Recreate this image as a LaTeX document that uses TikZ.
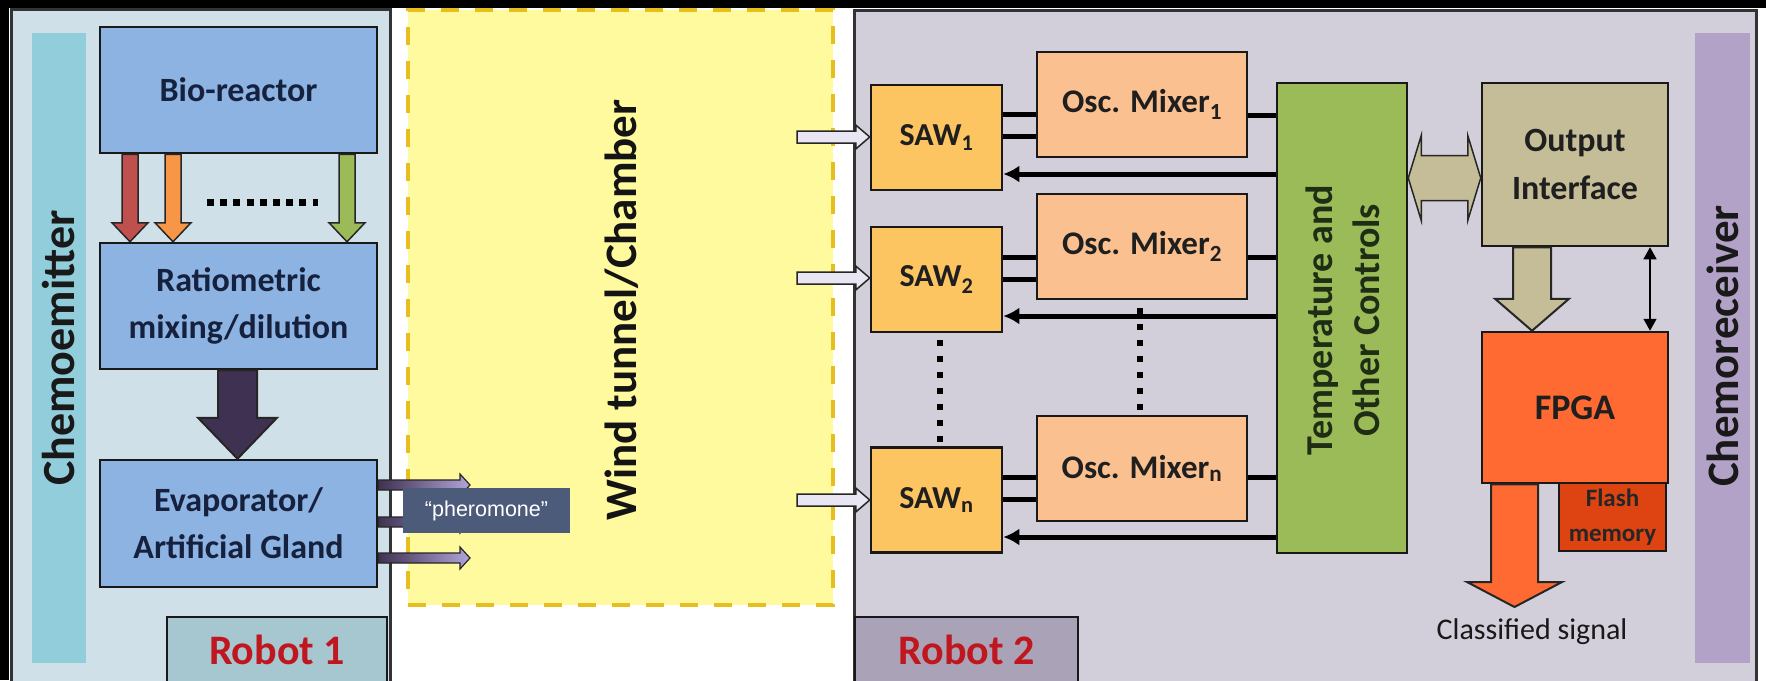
\documentclass[tikz,border=0pt]{standalone}
\usepackage{fontspec}
\setmainfont{Carlito}
\newfontfamily\labelfont{Liberation Sans}
\usetikzlibrary{calc,arrows.meta}

\definecolor{emitpanel}{HTML}{CFE0E8}
\definecolor{emitstrip}{HTML}{92CDDC}
\definecolor{emitbox}{HTML}{8DB3E2}
\definecolor{robotone}{HTML}{A6C7D0}
\definecolor{recvpanel}{HTML}{D2CFDA}
\definecolor{recvstrip}{HTML}{B3A2C7}
\definecolor{robottwo}{HTML}{AAA3B7}
\definecolor{sawfill}{HTML}{FCC562}
\definecolor{mixfill}{HTML}{FAC090}
\definecolor{tempfill}{HTML}{9BBB59}
\definecolor{outfill}{HTML}{C4BD97}
\definecolor{fpgafill}{HTML}{FF6A33}
\definecolor{flashfill}{HTML}{DD4411}
\definecolor{tunnel}{HTML}{FFFA9E}
\definecolor{tunnelline}{HTML}{E6BE1E}
\definecolor{pherofill}{HTML}{4D5B7B}
\definecolor{arrowred}{HTML}{C0504D}
\definecolor{arroworange}{HTML}{F79646}
\definecolor{arrowgreen}{HTML}{9BBB59}
\definecolor{arrowdark}{HTML}{3F3151}
\definecolor{plume}{HTML}{B1A5D8}
\definecolor{inletfill}{HTML}{E8E6F2}
\definecolor{labelred}{HTML}{C0161E}
\definecolor{boxtext}{HTML}{16213E}
\definecolor{temptext}{HTML}{1E2D14}

\newcommand\fsz[2]{\fontsize{#1}{#2}\selectfont}

% block arrow pointing down: start, tip, half shaft, half head, head length, options
\newcommand\blockdown[6]{%
  \path[#6] let \p1=(#1), \p2=(#2) in
    (\x1-#3,\y1) -- (\x1-#3,\y2+#5) -- (\x1-#4,\y2+#5) -- (\x1,\y2)
    -- (\x1+#4,\y2+#5) -- (\x1+#3,\y2+#5) -- (\x1+#3,\y1) -- cycle;}
% block arrow pointing right
\newcommand\blockright[6]{%
  \path[#6] let \p1=(#1), \p2=(#2) in
    (\x1,\y1+#3) -- (\x2-#5,\y1+#3) -- (\x2-#5,\y1+#4) -- (\x2,\y1)
    -- (\x2-#5,\y1-#4) -- (\x2-#5,\y1-#3) -- (\x1,\y1-#3) -- cycle;}
% block arrow with heads at both ends
\newcommand\blockboth[6]{%
  \path[#6] let \p1=(#1), \p2=(#2) in
    (\x1,\y1) -- (\x1+#5,\y1+#4) -- (\x1+#5,\y1+#3) -- (\x2-#5,\y1+#3)
    -- (\x2-#5,\y1+#4) -- (\x2,\y1) -- (\x2-#5,\y1-#4) -- (\x2-#5,\y1-#3)
    -- (\x1+#5,\y1-#3) -- (\x1+#5,\y1-#4) -- cycle;}

\tikzset{
  panel/.style={draw=black!80, line width=2.5pt, anchor=north west, inner sep=0pt},
  strip/.style={inner sep=0pt, minimum width=54pt, minimum height=630pt},
  blk/.style={draw=black!90, line width=2.5pt, inner sep=0pt, align=center},
  wire/.style={draw=black, line width=5pt},
  ctrl/.style={wire, -{Latex[length=16pt,width=17pt]}},
  dotline/.style={line width=6pt, dash pattern=on 6pt off 10pt},
  blockline/.style={draw=black!85, line width=2pt, line join=miter},
  plumearrow/.style={blockline, line width=1.2pt, left color=arrowdark, right color=plume},
}

\begin{document}
\begin{tikzpicture}[x=1pt,y=-1pt]
\useasboundingbox (0,0) rectangle (1766,680);
\clip (0,0) rectangle (1766,680);
\fill[black] (0,0) rectangle (1766,680);
\fill[white] (9,8) rectangle (1766,680);

% ---------- Robot 1: chemo-emitter ----------
\node[panel, fill=emitpanel, minimum width=379pt, minimum height=700pt] (emitter) at (10,8) {};
\node[strip, fill=emitstrip] (emitstrip) at (58.5,348) {};
\node[rotate=90, font=\fsz{46}{46}\bfseries, text=black!90] (emitname) at (59,348) {Chemoemitter};

\begin{scope}[every node/.style={blk, fill=emitbox, text=boxtext, minimum width=277pt, font=\fsz{34}{47}\bfseries}]
  \node[minimum height=126pt] (bio)   at (238.5,90)    {Bio-reactor};
  \node[minimum height=126pt] (ratio) at (238.5,306)   {Ratiometric\\mixing/dilution};
  \node[minimum height=127pt] (evap)  at (238.5,523.5) {Evaporator/\\Artificial Gland};
\end{scope}
\node[blk, fill=robotone, text=labelred, minimum width=220pt, minimum height=66pt,
      font=\fsz{42}{42}\bfseries] (robot1) at (277,650) {Robot 1};

% compound streams from the bio-reactor
\blockdown{bio.south -| 130,0}{ratio.north -| 130,0}{8pt}{18pt}{19pt}{blockline, line width=1.5pt, fill=arrowred}
\blockdown{bio.south -| 173,0}{ratio.north -| 173,0}{8pt}{18pt}{19pt}{blockline, line width=1.5pt, fill=arroworange}
\blockdown{bio.south -| 347,0}{ratio.north -| 347,0}{8pt}{18pt}{19pt}{blockline, line width=1.5pt, fill=arrowgreen}
\draw[line width=7pt, dash pattern=on 7pt off 6.2pt] (207,202) -- (318,202);
\blockdown{ratio.south -| 237.5,0}{evap.north -| 237.5,0}{19.5pt}{39.5pt}{41pt}{blockline, fill=arrowdark}

% ---------- wind tunnel ----------
\node[draw=tunnelline, line width=4pt, dash pattern=on 18pt off 16pt, fill=tunnel,
      minimum width=425pt, minimum height=595pt, inner sep=0pt] (tunnel) at (620.5,307.5) {};
\node[rotate=90, font=\fsz{45}{45}\bfseries, text=black!92] (tunnelname) at (622,310) {Wind tunnel/Chamber};

% ---------- Robot 2: chemo-receiver ----------
\node[panel, fill=recvpanel, minimum width=902pt, minimum height=700pt] (receiver) at (853,9) {};
\node[strip, fill=recvstrip, minimum width=55pt] (recvstrip) at (1722.5,348) {};
\node[rotate=90, font=\fsz{45}{45}\bfseries, text=black!90] (recvname) at (1723,346) {Chemoreceiver};
\node[blk, fill=robottwo, text=labelred, minimum width=223pt, minimum height=66pt,
      font=\fsz{42}{42}\bfseries] (robot2) at (966.5,650) {Robot 2};

\begin{scope}[every node/.style={blk, fill=sawfill, text=black!88, minimum width=131pt, minimum height=105pt, font=\fsz{32}{32}\bfseries}]
  \node (saw1) at (936.5,137.5) {SAW\textsubscript{1}};
  \node (saw2) at (936.5,279.5) {SAW\textsubscript{2}};
  \node (sawn) at (936.5,500)   {SAW\textsubscript{n}};
\end{scope}
\begin{scope}[every node/.style={blk, fill=mixfill, text=black!88, minimum width=210pt, minimum height=105pt, font=\fsz{33}{33}\bfseries}]
  \node (mix1) at (1142,104.5) {Osc. Mixer\textsubscript{1}};
  \node (mix2) at (1142,246.5) {Osc. Mixer\textsubscript{2}};
  \node (mixn) at (1142,468.5) {Osc. Mixer\textsubscript{n}};
\end{scope}

\node[blk, fill=tempfill, minimum width=130pt, minimum height=470pt] (temp) at (1342,318) {};
\node[rotate=90, align=center, font=\fsz{38}{47}\bfseries, text=temptext] (templabel) at (1343,320)
  {Temperature and\\Other Controls};

\node[blk, fill=outfill, text=black!88, minimum width=186pt, minimum height=163pt,
      font=\fsz{34}{48}\bfseries] (out) at (1575,164.5) {Output\\Interface};
\node[blk, fill=fpgafill, text=black!88, minimum width=186pt, minimum height=151pt,
      font=\fsz{36}{36}\bfseries] (fpga) at (1575,407.5) {FPGA};
\node[blk, fill=flashfill, text=black!85, minimum width=107pt, minimum height=68pt,
      font=\fsz{25}{35}\bfseries] (flash) at (1612.5,517) {Flash\\memory};
\node[font=\fsz{30}{30}, text=black!90] (signal) at (1532,632) {Classified signal};

% sensor / mixer wiring
\foreach \s/\m/\ya/\yb/\yc/\yd in {saw1/mix1/114/136/115/174, saw2/mix2/257/279/257/316, sawn/mixn/477/499/477/537} {
  \draw[wire] (\s.east |- 0,\ya) -- (\m.west |- 0,\ya);
  \draw[wire] (\s.east |- 0,\yb) -- (\m.west |- 0,\yb);
  \draw[wire] (\m.east |- 0,\yc) -- (temp.west |- 0,\yc);
  \draw[ctrl] (temp.west |- 0,\yd) -- (\s.east |- 0,\yd);
}
\draw[dotline, shorten <=7pt, shorten >=3pt] (saw2.south -| 940,0) -- (sawn.north -| 940,0);
\draw[dotline, shorten <=8pt, shorten >=3pt] (mix2.south -| 1140,0) -- (mixn.north -| 1140,0);

% air inlets to the sensors
\coordinate (in1) at (797,137);
\coordinate (in2) at (797,278);
\coordinate (in3) at (797,500);
\blockright{in1}{saw1.west}{6pt}{12pt}{14pt}{blockline, line width=1.5pt, fill=inletfill}
\blockright{in2}{saw2.west}{6pt}{12pt}{14pt}{blockline, line width=1.5pt, fill=inletfill}
\blockright{in3}{sawn.west}{6pt}{12pt}{14pt}{blockline, line width=1.5pt, fill=inletfill}

% controls <-> interface, interface -> FPGA, output
\coordinate (busline) at (0,178);
\blockboth{temp.east |- busline}{out.west |- busline}{22.5pt}{42.5pt}{13pt}{blockline, line width=1.5pt, fill=outfill}
\blockdown{out.south -| 1532,0}{fpga.north -| 1532,0}{19pt}{37pt}{32pt}{blockline, fill=outfill}
\draw[line width=1.5pt, {Triangle[length=12pt,width=13pt]}-{Triangle[length=12pt,width=13pt]}]
  (out.south -| 1650,0) -- (fpga.north -| 1650,0);
\coordinate (sigtip) at (1514.5,607);
\blockdown{fpga.south -| sigtip}{sigtip}{23.5pt}{47.5pt}{25pt}{blockline, fill=fpgafill}

% pheromone plumes leaving the gland
\coordinate (plume1) at (470,485);
\coordinate (plume2) at (470,522);
\coordinate (plume3) at (470,558);
\blockright{evap.east |- plume1}{plume1}{5pt}{11pt}{10pt}{plumearrow}
\blockright{evap.east |- plume2}{plume2}{5pt}{11pt}{10pt}{plumearrow}
\blockright{evap.east |- plume3}{plume3}{5pt}{11pt}{10pt}{plumearrow}

\node[fill=pherofill, text=white, minimum width=167pt, minimum height=45pt, inner sep=0pt,
      font=\labelfont\fsz{21.5}{21.5}] (phero) at (486.5,510.5) {“pheromone”};
\end{tikzpicture}
\end{document}
